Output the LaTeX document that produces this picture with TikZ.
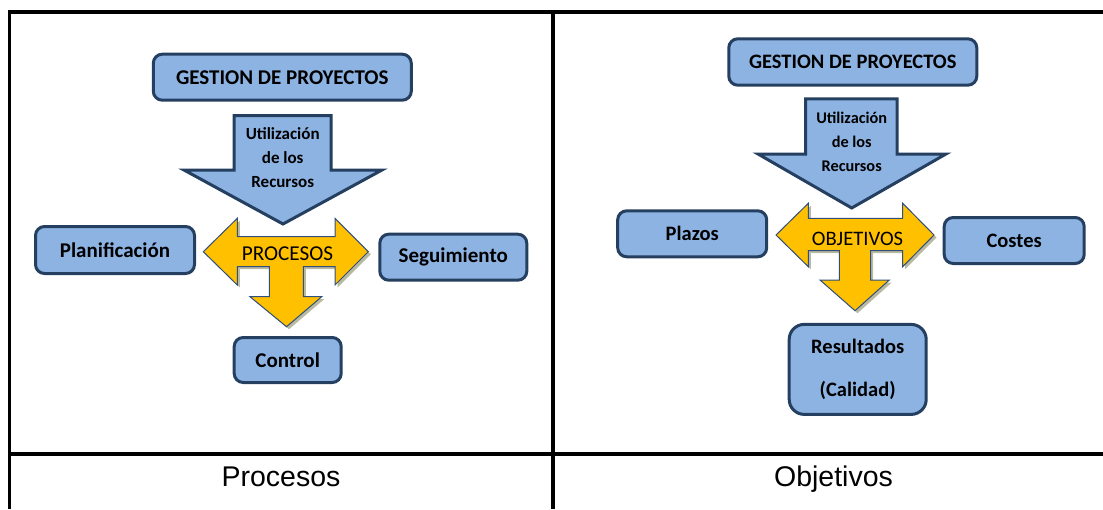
\documentclass[tikz,border=0pt]{standalone}
\usepackage{fontspec}
\setmainfont{Carlito}
\newfontfamily\arialf{Liberation Sans}
\definecolor{boxfill}{HTML}{8DB3E2}
\definecolor{boxline}{HTML}{253F60}
\definecolor{yel}{HTML}{FFC000}
\definecolor{yline}{HTML}{2F4F7F}
\definecolor{shad}{HTML}{9C9C78}
\begin{document}
\begin{tikzpicture}[x=1pt,y=-1pt,
  box/.style={draw=boxline, fill=boxfill, line width=3pt, rounded corners=9pt,
    inner sep=0pt, align=center, font=\bfseries\fontsize{#1}{#1}\selectfont},
  box/.default=21,
  bluearrow/.style={draw=boxline, fill=boxfill, line width=3pt, line join=miter},
  yarrow/.style={draw=yline, fill=yel, line width=1pt, line join=miter},
  yshadow/.style={fill=shad, opacity=0.7},
  arrtext/.style={align=center, inner sep=0pt, font=\bfseries\fontsize{#1}{23.8}\selectfont},
  ytext/.style={inner sep=0pt, font=\fontsize{#1}{#1}\selectfont},
  tline/.style={line width=3.5pt, black},
  lbl/.style={inner sep=0pt, anchor=base, font=\arialf\fontsize{28.5}{30}\selectfont}
]
\useasboundingbox (0,0) rectangle (1103,509);

% ---------- table ----------
\coordinate (tl) at (9.5,12);
\coordinate (tr) at (1103,12);
\coordinate (bl) at (9.5,509);
\coordinate (mt) at (553,12);
\coordinate (mb) at (553,509);
\coordinate (hl) at (9.5,454);
\coordinate (hr) at (1103,454);
\draw[tline] ([xshift=-1.75pt]tl) -- (tr);
\draw[tline] (tl) -- (bl);
\draw[tline] (mt) -- (mb);
\draw[tline] (hl) -- (hr);
\node[lbl] (lblP) at (281,486) {Procesos};
\node[lbl] (lblO) at (833.5,486) {Objetivos};

% ---------- left diagram ----------
\node[box, minimum width=258pt, minimum height=46pt] (GL) at (282.3,77.2) {GESTION DE PROYECTOS};
\draw[bluearrow] (234,115.5) -- (331,115.5) -- (331,170) -- (382,170) -- (283,224)
  -- (184,170) -- (234,170) -- cycle;
\node[arrtext=17] (UL) at (282.7,157.8) {Utilización\\de los\\Recursos};

\begin{scope}[shift={(2.5,2.5)}]
\fill[yshadow] (203.3,251.7) -- (237.3,218.3) -- (237.3,236.7) -- (335,236.7) -- (335,218.3)
  -- (368.3,251.7) -- (335,285) -- (335,266.7) -- (303.3,266.7) -- (303.3,296.7)
  -- (321.7,296.7) -- (286.5,326.7) -- (250,296.7) -- (269.3,296.7) -- (269.3,266.7)
  -- (237.3,266.7) -- (237.3,285) -- cycle;
\end{scope}
\draw[yarrow] (203.3,251.7) -- (237.3,218.3) -- (237.3,236.7) -- (335,236.7) -- (335,218.3)
  -- (368.3,251.7) -- (335,285) -- (335,266.7) -- (303.3,266.7) -- (303.3,296.7)
  -- (321.7,296.7) -- (286.5,326.7) -- (250,296.7) -- (269.3,296.7) -- (269.3,266.7)
  -- (237.3,266.7) -- (237.3,285) -- cycle;
\node[ytext=21.2] (PR) at (287.5,254) {PROCESOS};

\node[box, minimum width=159pt, minimum height=47pt] (PL) at (115,250) {Planificación};
\node[box, minimum width=147pt, minimum height=46pt] (SE) at (453.3,257.2) {Seguimiento};
\node[box, minimum width=107pt, minimum height=45pt] (CO) at (287.7,360) {Control};

% ---------- right diagram ----------
\node[box=20.5, minimum width=248pt, minimum height=46.4pt] (GR) at (852.8,62) {GESTION DE PROYECTOS};
\draw[bluearrow] (805.5,98.8) -- (897,98.8) -- (897,154) -- (946,154) -- (851.7,208)
  -- (758,154) -- (805.5,154) -- cycle;
\node[arrtext=16.3] (UR) at (851.7,142) {Utilización\\de los\\Recursos};

\begin{scope}[shift={(2.5,2.5)}]
\fill[yshadow] (776,235) -- (808.3,203.3) -- (808.3,218.3) -- (902.7,218.3) -- (902.7,203.3)
  -- (934,235) -- (902.7,266.7) -- (902.7,250.7) -- (870.7,250.7) -- (870.7,280)
  -- (889.3,280) -- (855,310.7) -- (820,280) -- (839.3,280) -- (839.3,250.7)
  -- (808.3,250.7) -- (808.3,266.7) -- cycle;
\end{scope}
\draw[yarrow] (776,235) -- (808.3,203.3) -- (808.3,218.3) -- (902.7,218.3) -- (902.7,203.3)
  -- (934,235) -- (902.7,266.7) -- (902.7,250.7) -- (870.7,250.7) -- (870.7,280)
  -- (889.3,280) -- (855,310.7) -- (820,280) -- (839.3,280) -- (839.3,250.7)
  -- (808.3,250.7) -- (808.3,266.7) -- cycle;
\node[ytext=20.6] (OB) at (857.5,239) {OBJETIVOS};

\node[box=20.5, minimum width=149pt, minimum height=46pt] (PZ) at (692.2,233.8) {Plazos};
\node[box=20.5, minimum width=140pt, minimum height=46pt] (CS) at (1014.2,240.5) {Costes};
\node[box=20.5, minimum width=137pt, minimum height=90pt, rounded corners=15pt,
  font=\bfseries\fontsize{20.5}{43}\selectfont] (RE) at (857.7,369.4) {Resultados\\(Calidad)};
\end{tikzpicture}
\end{document}
